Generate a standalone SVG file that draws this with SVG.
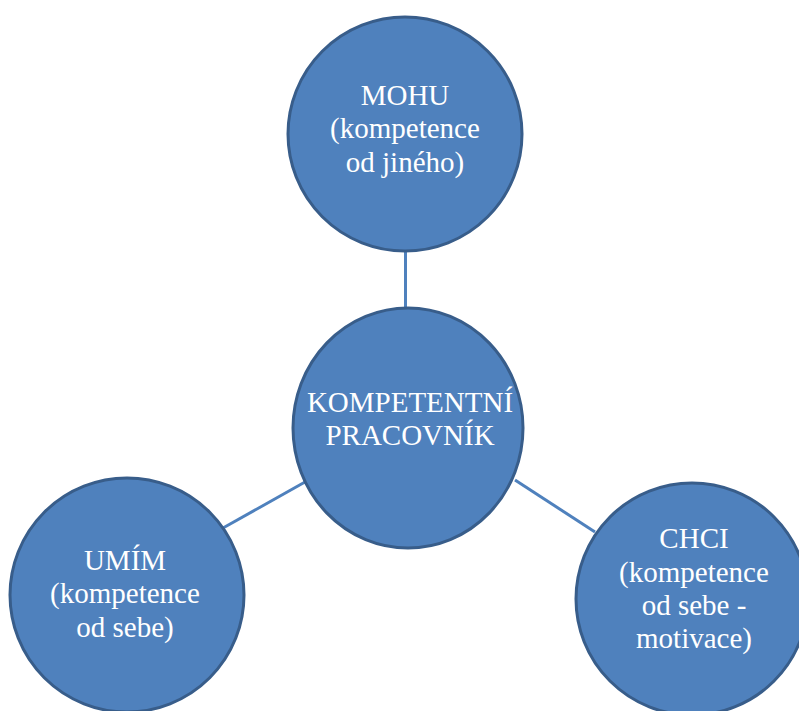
<svg xmlns="http://www.w3.org/2000/svg" width="799" height="711" viewBox="0 0 799 711">
<style>
.node{fill:#4F81BD;stroke:#385D8A;stroke-width:3}
.conn{stroke:#4F81BD;stroke-width:3;fill:none}
</style>
<rect width="799" height="711" fill="#FFFFFF"/>
<g id="connectors">
<line class="conn" x1="405.5" y1="252" x2="405.5" y2="308"/>
<line class="conn" x1="305" y1="482" x2="223" y2="528"/>
<line class="conn" x1="515" y1="480" x2="595" y2="532"/>
</g>
<g id="node-mohu">
<circle class="node" cx="405" cy="134" r="117"/>
<text font-family="Liberation Serif" font-size="29" fill="#FFFFFF" text-anchor="middle" x="405" y="105">MOHU</text>
<text font-family="Liberation Serif" font-size="29" fill="#FFFFFF" text-anchor="middle" x="405" y="138">(kompetence</text>
<text font-family="Liberation Serif" font-size="29" fill="#FFFFFF" text-anchor="middle" x="405" y="172">od jiného)</text>
</g>
<g id="node-center">
<ellipse class="node" cx="408" cy="428" rx="115" ry="120"/>
<text font-family="Liberation Serif" font-size="29" fill="#FFFFFF" text-anchor="middle" x="410" y="412">KOMPETENTNÍ</text>
<text font-family="Liberation Serif" font-size="29" fill="#FFFFFF" text-anchor="middle" x="410" y="445">PRACOVNÍK</text>
</g>
<g id="node-umim">
<circle class="node" cx="127" cy="595" r="117"/>
<text font-family="Liberation Serif" font-size="29" fill="#FFFFFF" text-anchor="middle" x="125" y="570">UMÍM</text>
<text font-family="Liberation Serif" font-size="29" fill="#FFFFFF" text-anchor="middle" x="125" y="603">(kompetence</text>
<text font-family="Liberation Serif" font-size="29" fill="#FFFFFF" text-anchor="middle" x="125" y="637">od sebe)</text>
</g>
<g id="node-chci">
<circle class="node" cx="692" cy="599" r="116"/>
<text font-family="Liberation Serif" font-size="29" fill="#FFFFFF" text-anchor="middle" x="694" y="548">CHCI</text>
<text font-family="Liberation Serif" font-size="29" fill="#FFFFFF" text-anchor="middle" x="694" y="582">(kompetence</text>
<text font-family="Liberation Serif" font-size="29" fill="#FFFFFF" text-anchor="middle" x="694" y="615">od sebe -</text>
<text font-family="Liberation Serif" font-size="29" fill="#FFFFFF" text-anchor="middle" x="694" y="648">motivace)</text>
</g>
</svg>
